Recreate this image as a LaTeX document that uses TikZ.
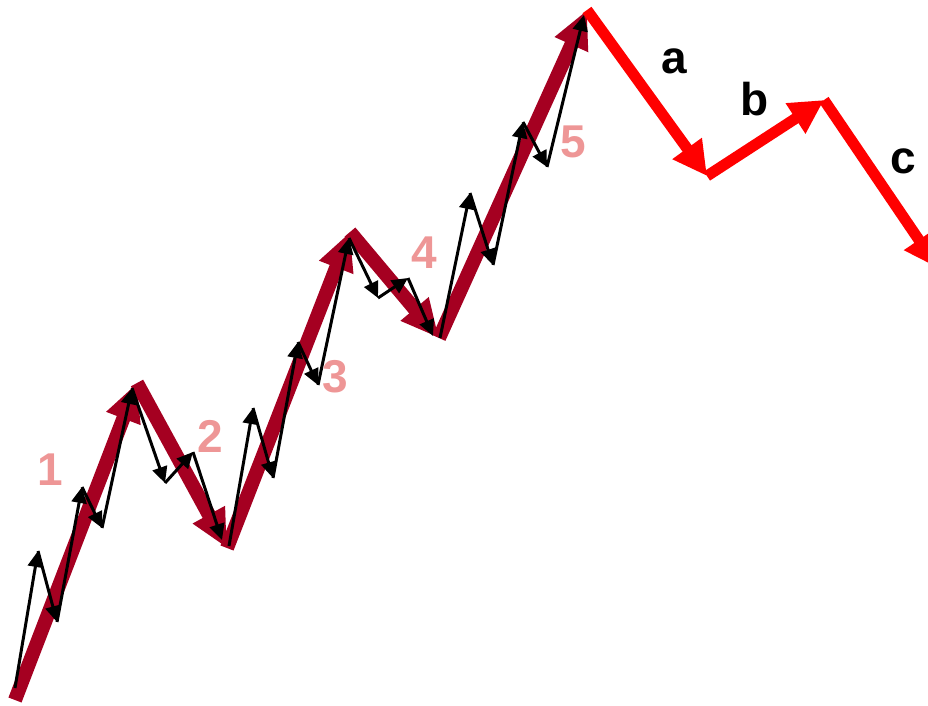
\documentclass[tikz,border=0pt]{standalone}
\usepackage{fontspec}
\setsansfont{Liberation Sans}
\usetikzlibrary{arrows.meta}

\definecolor{impulsered}{RGB}{165,0,33}
\definecolor{corrred}{RGB}{255,0,0}
\definecolor{numpink}{RGB}{238,150,150}

\begin{document}
\begin{tikzpicture}[x=1pt,y=-1pt,
  impulse/.style={impulsered,line width=14pt,-{Triangle[length=38pt,width=34pt]}},
  corr/.style={corrred,line width=11pt,-{Triangle[length=34pt,width=34pt]}},
  sub/.style={black,line width=3pt,-{Triangle[length=16pt,width=15pt]}},
  wavenum/.style={numpink,anchor=base,font=\sffamily\bfseries\fontsize{46}{50}\selectfont},
  waveletter/.style={black,anchor=base,font=\sffamily\bfseries\fontsize{46}{50}\selectfont}]
\useasboundingbox (0,0) rectangle (928,705);

% Main waves, pixel coordinates with y pointing down.
\coordinate (w0) at (15,700);
\coordinate (w1) at (137,383);
\coordinate (w2) at (227,548);
\coordinate (w3) at (350,232);
\coordinate (w4) at (439,338);
\coordinate (w5) at (587,10);
\coordinate (a) at (707,176);
\coordinate (b) at (824,100);
\coordinate (c) at (938,268);

\foreach \p/\q in {w0/w1,w1/w2,w2/w3,w3/w4,w4/w5}
  \draw[impulse] (\p)--(\q);
\foreach \p/\q in {w5/a,a/b,b/c}
  \draw[corr] (\p)--(\q);

% Sub-waves inside the impulse.
\foreach \n/\x/\y in {0/15/688,1/38/551,2/57/622,3/82/487,
  4/102/528,5/132/388,6/165/483,7/193/452,8/222/540,
  9/229/546,10/253/408,11/273/478,12/298/342,13/318/385,
  14/349/238,15/378/298,16/408/278,17/433/336,
  18/440/338,19/470/193,20/493/265,21/523/122,
  22/547/167,23/584/15}
  \coordinate (s\n) at (\x,\y);
\foreach \k in {0,...,7,9,10,...,16,18,19,...,22}{
  \pgfmathtruncatemacro\nxt{\k+1}
  \draw[sub] (s\k)--(s\nxt);
}

% Wave labels.
\node[wavenum] (n1) at (50,485) {1};
\node[wavenum] (n2) at (210,452) {2};
\node[wavenum] (n3) at (335,392) {3};
\node[wavenum] (n4) at (424,268) {4};
\node[wavenum] (n5) at (573,157) {5};
\node[waveletter] (la) at (674,73) {a};
\node[waveletter] (lb) at (755,115) {b};
\node[waveletter] (lc) at (903,173) {c};
\end{tikzpicture}
\end{document}
